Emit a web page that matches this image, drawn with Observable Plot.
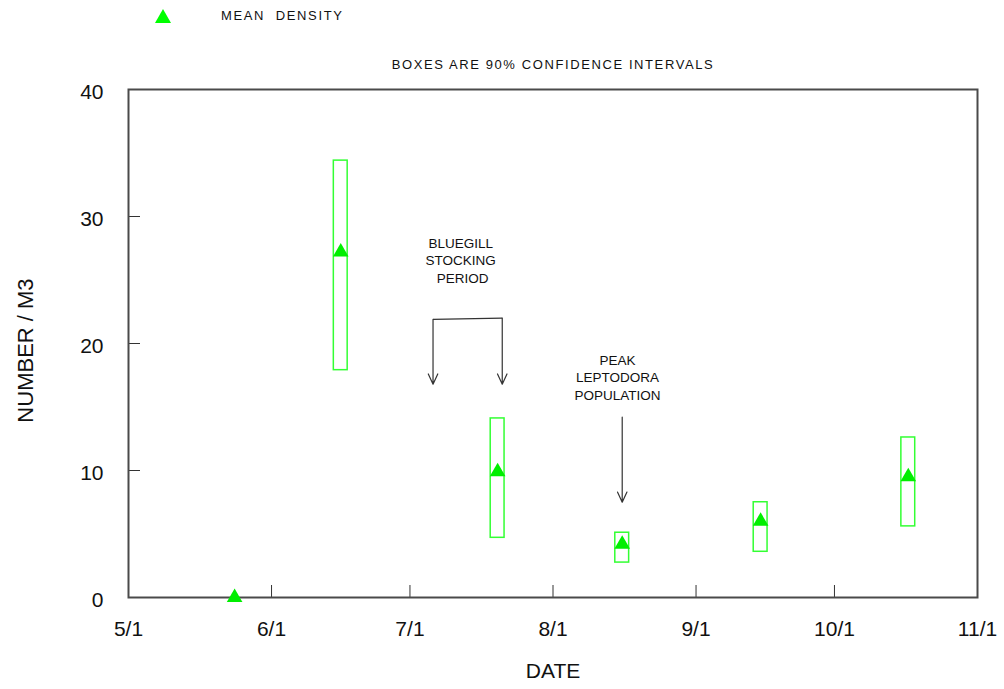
<!DOCTYPE html>
<html>
<head>
<meta charset="utf-8">
<script src="https://cdn.jsdelivr.net/npm/d3@7"></script>
<script src="https://cdn.jsdelivr.net/npm/@observablehq/plot@0.6"></script>
<style>
  body { margin: 0; background: #fff; font-family: "Liberation Sans", Arial, sans-serif; }
  #wrap { position: relative; width: 1004px; height: 689px; }
  #legend { position: absolute; left: 155px; top: 8px; font-size: 13px; letter-spacing: 1.65px; color: #111; display: flex; align-items: center; }
  #legend .sym { width: 0; height: 0; border-left: 8px solid transparent; border-right: 8px solid transparent; border-bottom: 14px solid #00ff00; margin-right: 50px; }
  #subtitle { position: absolute; left: 0; width: 1106px; top: 57px; text-align: center; font-size: 13px; letter-spacing: 1.6px; color: #111; }
  #chart { position: absolute; left: 0; top: 0; }
</style>
</head>
<body>
<div id="wrap">
  <div id="chart"></div>
  <div id="legend"><span class="sym"></span><span>MEAN&nbsp;&nbsp;DENSITY</span></div>
  <div id="subtitle">BOXES ARE 90% CONFIDENCE INTERVALS</div>
</div>
<script>
// ---- data ----
const dates = ["1985-05-24", "1985-06-16", "1985-07-20", "1985-08-16", "1985-09-15", "1985-10-17"];
const means = [0, 27.2, 9.9, 4.2, 6.0, 9.5];
const lows  = [null, 17.9, 4.7, 2.75, 3.6, 5.6];
const highs = [null, 34.4, 14.1, 5.1, 7.5, 12.6];

const tickDates  = ["1985-05-01", "1985-06-01", "1985-07-01", "1985-08-01", "1985-09-01", "1985-10-01", "1985-11-01"];
const tickLabels = ["5/1", "6/1", "7/1", "8/1", "9/1", "10/1", "11/1"];
const yTicks = [0, 10, 20, 30, 40];

// annotations
const bracketDates = ["1985-07-06", "1985-07-21"];
const bracketTop = [21.9, 22.0];
const bracketBottom = 16.8;
const peakDate = "1985-08-16";
const peakFrom = 14.2, peakTo = 7.5;
const notes = [
  {date: "1985-07-12", y: 26.6, text: "BLUEGILL\nSTOCKING\n PERIOD"},
  {date: "1985-08-15", y: 17.4, text: "PEAK\nLEPTODORA\nPOPULATION"}
];

const parse = d3.utcParse("%Y-%m-%d");
const rows = dates.map((d, i) => ({date: parse(d), mean: means[i], lo: lows[i], hi: highs[i]}));
const boxes = rows.filter(r => r.lo != null);
const ticks = tickDates.map(parse);
const inner = ticks.slice(1, -1);
const labelOf = new Map(ticks.map((t, i) => [+t, tickLabels[i]]));

const bracketH = [{x1: parse(bracketDates[0]), y1: bracketTop[0], x2: parse(bracketDates[1]), y2: bracketTop[1]}];
const arrows = [
  {x: parse(bracketDates[0]), y1: bracketTop[0], y2: bracketBottom},
  {x: parse(bracketDates[1]), y1: bracketTop[1], y2: bracketBottom},
  {x: parse(peakDate), y1: peakFrom, y2: peakTo}
];
const noteRows = notes.map(n => ({...n, date: parse(n.date)}));

const halfBox = 36 * 3600 * 1000; // box half-width (about 1.5 days)

const chart = Plot.plot({
  width: 1004,
  height: 689,
  marginLeft: 128,
  marginRight: 27,
  marginTop: 89,
  marginBottom: 92,
  style: {fontFamily: "'Liberation Sans', Arial, sans-serif", background: "transparent", color: "#111"},
  x: {type: "utc", domain: [ticks[0], ticks[ticks.length - 1]]},
  y: {domain: [0, 40]},
  marks: [
    Plot.axisX({ticks: ticks, tickFormat: d => labelOf.get(+d), tickSize: 0, tickPadding: 24, fontSize: 21,
      label: "DATE", labelAnchor: "center", labelArrow: "none", labelOffset: 80}),
    Plot.axisX({ticks: inner, tickSize: -12, text: null, label: null, stroke: "#333"}),
    Plot.axisY({ticks: yTicks, tickSize: 0, tickPadding: 25, fontSize: 21, dy: 3, label: null}),
    Plot.text(["NUMBER / M3"], {frameAnchor: "left", textAnchor: "middle", text: d => d, rotate: -90, dx: -103, dy: 7,
      fontSize: 22, fill: "#111"}),
    Plot.axisY({ticks: [10, 20, 30], tickSize: -12, text: null, label: null, stroke: "#333"}),
    Plot.frame({stroke: "#4a4a4a", strokeWidth: 2}),
    Plot.rect(boxes, {x1: d => new Date(+d.date - halfBox), x2: d => new Date(+d.date + halfBox),
      y1: "lo", y2: "hi", fill: "none", stroke: "#33ff33", strokeWidth: 1.5}),
    Plot.dot(rows, {x: "date", y: "mean", symbol: "triangle", r: 5.8, fill: "#00ee00", stroke: "none"}),
    Plot.link(bracketH, {x1: "x1", y1: "y1", x2: "x2", y2: "y2", stroke: "#333", strokeWidth: 1.2}),
    Plot.arrow(arrows, {x: "x", y1: "y1", y2: "y2", stroke: "#333", strokeWidth: 1.2, headLength: 14, headAngle: 50}),
    Plot.text(noteRows, {x: "date", y: "y", text: "text", fontSize: 13.5, lineHeight: 1.3, fill: "#111"})
  ]
});
document.getElementById("chart").appendChild(chart);
</script>
</body>
</html>
